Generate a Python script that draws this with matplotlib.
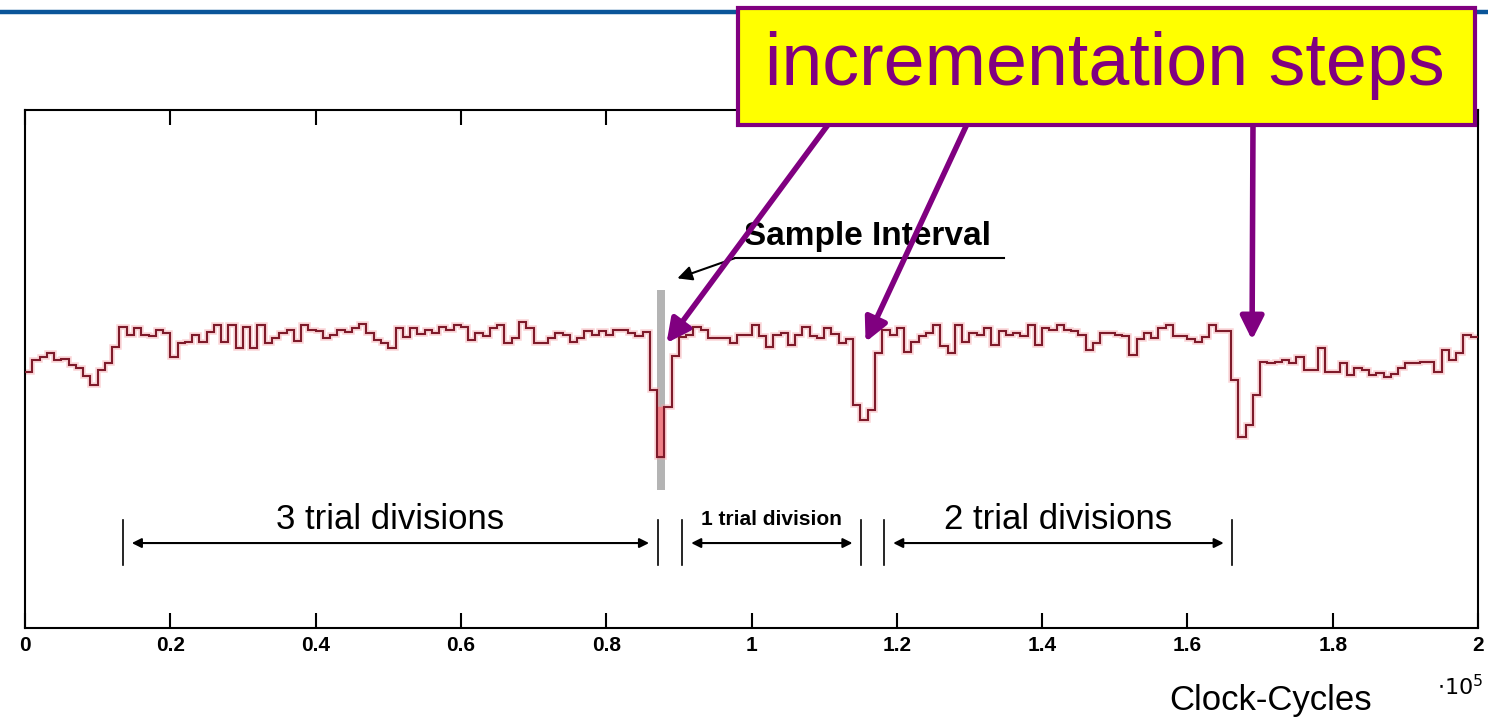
import numpy as np
import matplotlib.pyplot as plt
from matplotlib.patches import Rectangle
from matplotlib.lines import Line2D

plt.rcParams['font.family'] = ['Liberation Sans', 'DejaVu Sans']

# power trace, one reading per sample interval (1000 clock cycles each)
power = [
    49.4, 51.7, 52.3, 53.0, 51.7, 51.9, 50.8, 50.2, 48.6, 46.9,
    49.8, 51.2, 54.2, 58.1, 56.6, 57.9, 56.6, 56.4, 57.5, 56.9,
    52.3, 55.0, 55.2, 56.6, 55.2, 57.1, 58.5, 55.2, 58.5, 54.1,
    58.1, 54.1, 58.5, 55.0, 56.0, 56.9, 57.5, 55.5, 58.5, 57.5,
    57.3, 56.0, 56.5, 57.5, 57.1, 57.9, 58.7, 57.0, 55.6, 55.0,
    54.1, 57.9, 56.2, 57.9, 56.8, 57.5, 56.9, 58.1, 57.5, 58.5,
    58.1, 55.6, 56.9, 56.4, 57.9, 58.5, 55.0, 56.0, 59.0, 57.9,
    55.0, 55.0, 56.0, 56.9, 56.6, 55.2, 56.0, 57.3, 56.6, 57.3,
    56.6, 57.5, 57.5, 56.9, 56.4, 57.1, 46.0, 33.0, 42.7, 52.5,
    56.2, 56.6, 58.1, 57.5, 56.0, 56.0, 56.0, 55.0, 56.6, 56.6,
    58.5, 56.4, 54.2, 56.6, 57.0, 54.6, 56.6, 58.1, 56.4, 56.0,
    57.9, 56.8, 55.0, 55.8, 43.0, 40.2, 42.1, 53.0, 57.5, 56.6,
    57.9, 53.3, 55.2, 56.4, 56.9, 58.5, 54.5, 53.1, 58.5, 55.2,
    56.9, 56.6, 57.9, 54.6, 57.3, 56.5, 56.9, 56.4, 58.5, 54.6,
    57.9, 57.5, 58.5, 57.5, 57.3, 56.6, 53.7, 55.0, 57.0, 56.9,
    56.6, 56.4, 52.7, 55.8, 56.9, 56.0, 57.9, 58.5, 56.4, 56.4,
    55.8, 55.2, 56.2, 58.5, 57.3, 57.3, 47.9, 36.9, 39.2, 45.0,
    51.4, 51.2, 51.4, 51.7, 51.2, 52.3, 49.8, 49.8, 54.1, 49.4,
    49.4, 51.2, 48.8, 50.2, 49.8, 48.8, 49.2, 48.5, 49.0, 50.2,
    51.2, 51.2, 51.4, 51.4, 49.4, 53.7, 51.7, 53.0, 56.6, 56.2,
]
sample_period = 0.01  # in 1e5 clock cycles
sample_idx = 87       # highlighted sample interval

div_labels = ["3 trial divisions", "1 trial division", "2 trial divisions"]
div_start = [0.135, 0.905, 1.183]
div_end = [0.871, 1.151, 1.662]
div_fontsize = [25, 15, 25]
div_weight = ["normal", "bold", "normal"]

# where the incrementation steps occur
step_x = [0.883, 1.157, 1.689]
step_y = [55.0, 55.2, 55.6]

xticks = [0, 0.2, 0.4, 0.6, 0.8, 1.0, 1.2, 1.4, 1.6, 1.8, 2.0]
xtick_labels = ["0", "0.2", "0.4", "0.6", "0.8", "1", "1.2", "1.4", "1.6", "1.8", "2"]

purple = "#800080"

fig = plt.figure(figsize=(14.88, 7.2), dpi=100)
ax = fig.add_axes([25 / 1488, 92 / 720, 1453 / 1488, 518 / 720])
ax.set_xlim(0, 2)
ax.set_ylim(0, 100)

edges = np.arange(len(power) + 1) * sample_period

# grey sample-interval marker and the highlighted sample
ax.add_patch(Rectangle((edges[sample_idx], 26.6), sample_period * 1.1, 38.7,
                       facecolor="#b4b4b4", edgecolor="none", zorder=1.5))
ax.fill_between([edges[sample_idx], edges[sample_idx + 1]],
                power[sample_idx], power[sample_idx + 1],
                color="#ef7f86", zorder=2.5)

# trace: pink halo + dark red core
ax.stairs(power, edges, baseline=None, color="#f5a3a8", lw=4, alpha=0.45, zorder=2)
ax.stairs(power, edges, baseline=None, color="#7e1a2a", lw=1.5, zorder=3)

# "Sample Interval" label
ax.text(1.16, 75.5, "Sample Interval", ha="center", va="center", fontsize=24,
        fontweight="bold")
ax.plot([0.977, 1.348], [71.4, 71.4], color="k", lw=1.5)
ax.annotate("", xy=(0.898, 67.5), xytext=(0.977, 71.4),
            arrowprops=dict(arrowstyle="-|>", color="k", lw=1.5,
                            mutation_scale=22, shrinkA=0, shrinkB=0))

# trial division spans
for lab, x0, x1, fs, fw in zip(div_labels, div_start, div_end, div_fontsize, div_weight):
    ax.plot([x0, x0], [12.2, 20.8], color="k", lw=1.2)
    ax.plot([x1, x1], [12.2, 20.8], color="k", lw=1.2)
    ax.annotate("", xy=(x0 + 0.012, 16.4), xytext=(x1 - 0.012, 16.4),
                arrowprops=dict(arrowstyle="<|-|>", color="k", lw=1.5,
                                mutation_scale=14, shrinkA=0, shrinkB=0))
    ax.text((x0 + x1) / 2, 21.0, lab, ha="center", va="center", fontsize=fs,
            fontweight=fw)

# purple pointers from the callout box
tails = [(830, 598), (968, 598), (1253, 598)]
for tx, ty, tail in zip(step_x, step_y, tails):
    ax.annotate("", xy=(tx, ty), xycoords="data", xytext=tail,
                textcoords="figure pixels", annotation_clip=False, zorder=6,
                arrowprops=dict(arrowstyle="-|>", color=purple, lw=4,
                                mutation_scale=35, shrinkA=0, shrinkB=0))

ax.set_xticks(xticks, xtick_labels)
ax.tick_params(axis="x", direction="in", top=True, length=11, width=1.5,
               labelsize=15, pad=6)
for lbl in ax.get_xticklabels():
    lbl.set_fontweight("bold")
ax.set_yticks([])
for sp in ax.spines.values():
    sp.set_linewidth(1.5)

ax.set_xlabel("Clock-Cycles", fontsize=25)
ax.xaxis.set_label_coords(0.857, -0.139)
ax.xaxis.label.set_va("center")
ax.text(0.988, -0.115, r"$\cdot10^5$", transform=ax.transAxes, fontsize=16,
        ha="center", va="center")

# header rule and callout box
fig.add_artist(Line2D([0, 1], [1 - 11.5 / 720] * 2, transform=fig.transFigure,
                      color="#0a5599", lw=3.2))
fig.add_artist(Rectangle((738 / 1488, 1 - 125 / 720), 737 / 1488, 117 / 720,
                         transform=fig.transFigure, facecolor="#ffff00",
                         edgecolor=purple, lw=3, zorder=5))
fig.text(1105 / 1488, 1 - 66 / 720, "incrementation steps", color=purple,
         fontsize=53, ha="center", va="center", zorder=6)

fig.savefig("out.png", dpi=100)
